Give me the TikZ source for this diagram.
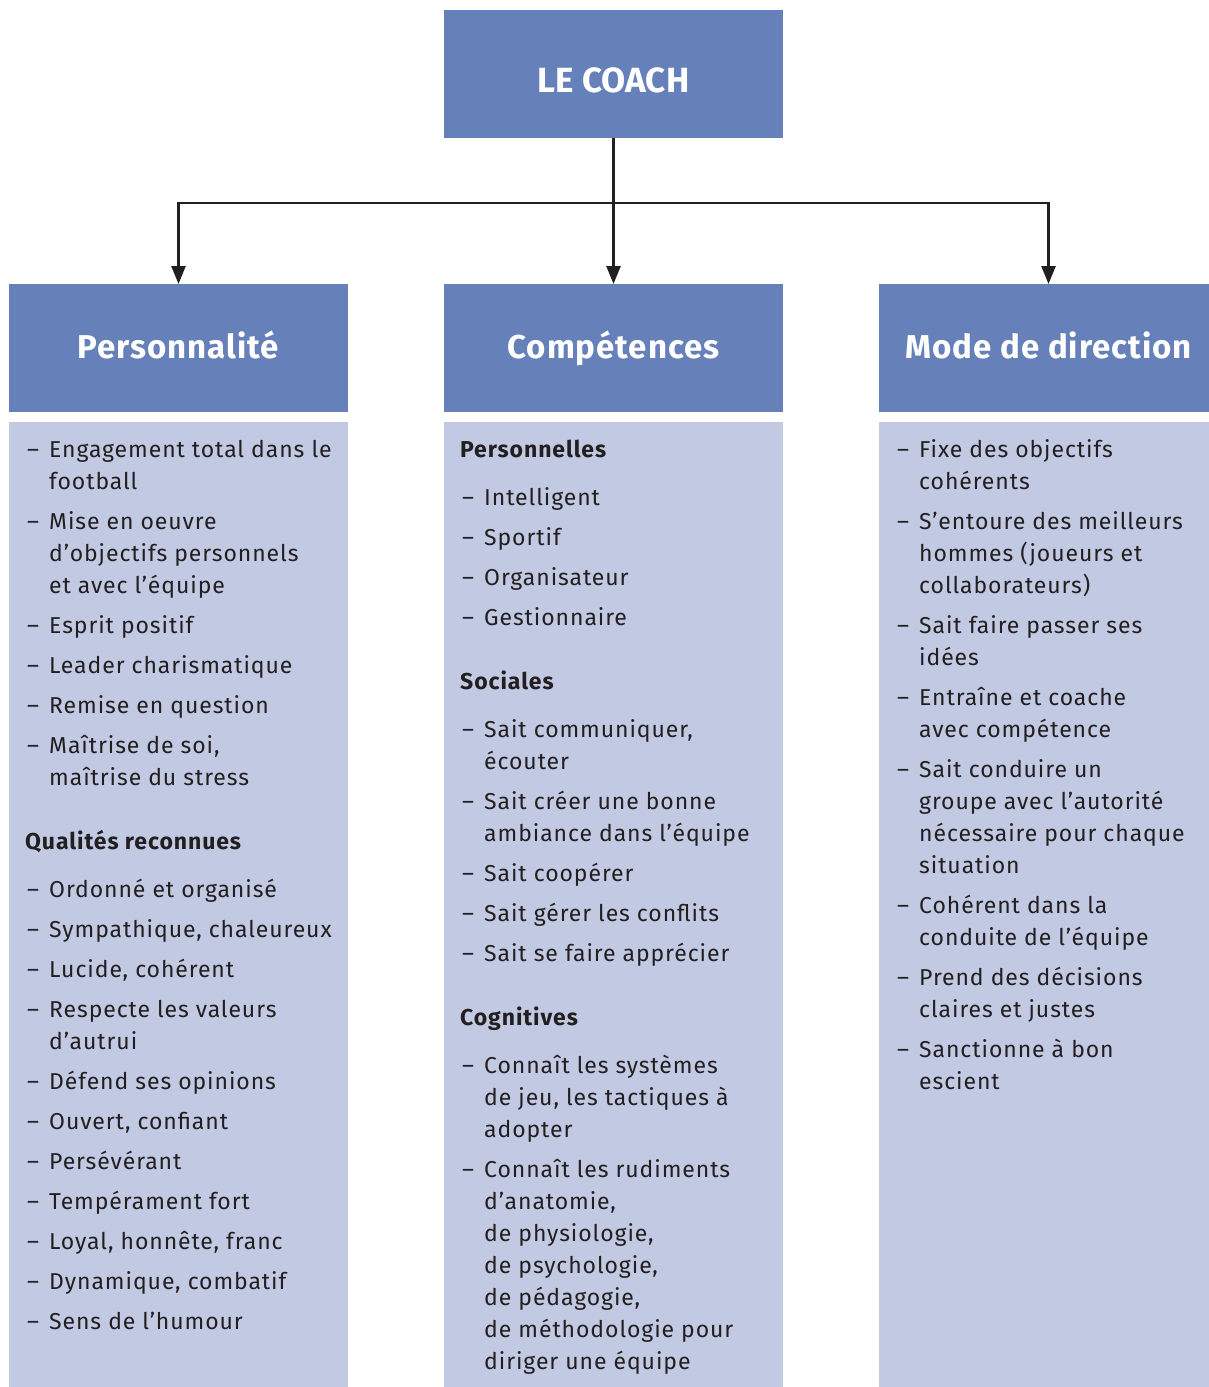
\documentclass[tikz,border=0pt]{standalone}
\usepackage{fontspec}
\setmainfont{Fira Sans}
\usetikzlibrary{arrows.meta}
\definecolor{hdr}{RGB}{102,128,186}
\definecolor{pane}{RGB}{194,201,227}
\definecolor{ink}{RGB}{35,31,32}

% list helpers used inside the column texts
\newcommand\dashitem{\par\hangindent=24pt\hangafter=1\makebox[24pt][l]{\hspace{2pt}–}}
\newcommand\firsthead[1]{{\bfseries #1}\par\vspace{8pt}}
\newcommand\grouphead[1]{\par\vspace{24pt}{\bfseries #1}\par\vspace{8pt}}
\newcommand\coltext[1]{\parbox[t]{360pt}{\fontsize{23}{32}\selectfont
  \addfontfeatures{LetterSpace=4}\raggedright\setlength\parskip{8pt}#1}}

\tikzset{
  titlebox/.style={fill=hdr, text=white,
    font=\bfseries\fontsize{33}{40}\selectfont\addfontfeatures{LetterSpace=3},
    minimum width=339pt, minimum height=128pt, inner sep=0pt, outer sep=0pt,
    anchor=north west, text height=20pt, text depth=0pt},
  panebox/.style={fill=pane, minimum width=339pt, minimum height=965pt,
    inner sep=0pt, outer sep=0pt, anchor=north west},
  listtext/.style={anchor=base west, inner sep=0pt, text=ink},
  conn/.style={draw=ink, line width=2.5pt},
  tip/.style={-{Triangle[length=18pt,width=14pt]}}
}

\begin{document}
\begin{tikzpicture}[x=1pt,y=-1pt]
\useasboundingbox (0,0) rectangle (1209,1387);

% top box
\node[titlebox, text height=36pt, font=\bfseries\fontsize{35}{40}\selectfont] (coach) at (444,10) {LE COACH};

% column headers
\node[titlebox] (h1) at (9,284) {Personnalité};
\node[titlebox] (h2) at (444,284) {Compétences};
\node[titlebox] (h3) at (879,284) {Mode de direction};

% column panes
\node[panebox] (c1) at (9,422) {};
\node[panebox] (c2) at (444,422) {};
\node[panebox] (c3) at (879,422) {};

% connectors
\coordinate (split) at (coach.south |- 0,203);
\draw[conn, tip] (coach.south) -- (h2.north);
\draw[conn, tip] (split) -| (h1.north);
\draw[conn, tip] (split) -| (h3.north);

% column texts
\node[listtext] (t1) at (25,457) {\coltext{%
\dashitem Engagement total dans le\newline football
\dashitem Mise en oeuvre\newline d’objectifs personnels\newline et avec l’équipe
\dashitem Esprit positif
\dashitem Leader charismatique
\dashitem Remise en question
\dashitem Maîtrise de soi,\newline maîtrise du stress
\grouphead{Qualités reconnues}
\dashitem Ordonné et organisé
\dashitem Sympathique, chaleureux
\dashitem Lucide, cohérent
\dashitem Respecte les valeurs\newline d’autrui
\dashitem Défend ses opinions
\dashitem Ouvert, confiant
\dashitem Persévérant
\dashitem Tempérament fort
\dashitem Loyal, honnête, franc
\dashitem Dynamique, combatif
\dashitem Sens de l’humour\par}};

\node[listtext] (t2) at (460,457) {\coltext{%
\firsthead{Personnelles}
\dashitem Intelligent
\dashitem Sportif
\dashitem Organisateur
\dashitem Gestionnaire
\grouphead{Sociales}
\dashitem Sait communiquer,\newline écouter
\dashitem Sait créer une bonne\newline ambiance dans l’équipe
\dashitem Sait coopérer
\dashitem Sait gérer les conflits
\dashitem Sait se faire apprécier
\grouphead{Cognitives}
\dashitem Connaît les systèmes\newline de jeu, les tactiques à\newline adopter
\dashitem Connaît les rudiments\newline d’anatomie,\newline de physiologie,\newline de psychologie,\newline de pédagogie,\newline de méthodologie pour\newline diriger une équipe\par}};

\node[listtext] (t3) at (895,457) {\coltext{%
\dashitem Fixe des objectifs\newline cohérents
\dashitem S’entoure des meilleurs\newline hommes (joueurs et\newline collaborateurs)
\dashitem Sait faire passer ses\newline idées
\dashitem Entraîne et coache\newline avec compétence
\dashitem Sait conduire un\newline groupe avec l’autorité\newline nécessaire pour chaque\newline situation
\dashitem Cohérent dans la\newline conduite de l’équipe
\dashitem Prend des décisions\newline claires et justes
\dashitem Sanctionne à bon\newline escient\par}};
\end{tikzpicture}
\end{document}
